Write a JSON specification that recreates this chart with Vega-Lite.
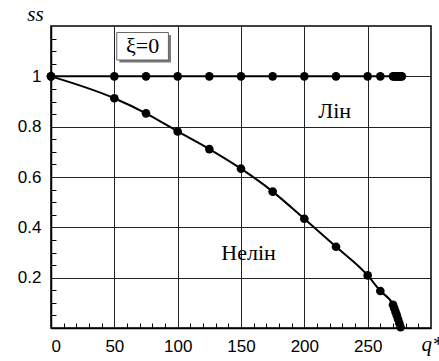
{
  "$schema": "https://vega.github.io/schema/vega-lite/v6.json",
  "width": 380,
  "height": 302,
  "autosize": {"type": "none"},
  "padding": {"left": 51, "top": 26, "right": 8, "bottom": 33},
  "background": "white",
  "config": {
    "view": {"stroke": "black", "strokeWidth": 1.5},
    "axis": {
      "domainColor": "black",
      "domainWidth": 1.5,
      "tickColor": "black",
      "tickWidth": 1,
      "gridColor": "#222",
      "gridWidth": 1,
      "gridOpacity": 1,
      "labelFont": "Liberation Sans",
      "labelFontSize": 17,
      "labelColor": "black",
      "labelOverlap": false,
      "titleFont": "Liberation Serif",
      "titleFontStyle": "italic",
      "titleFontWeight": "normal",
      "titleFontSize": 21,
      "titleColor": "black"
    }
  },
  "datasets": {
    "curves": [
      {"series": "Лін", "q": 0, "ss": 1},
      {"series": "Лін", "q": 50, "ss": 1},
      {"series": "Лін", "q": 75, "ss": 1},
      {"series": "Лін", "q": 100, "ss": 1},
      {"series": "Лін", "q": 125, "ss": 1},
      {"series": "Лін", "q": 150, "ss": 1},
      {"series": "Лін", "q": 175, "ss": 1},
      {"series": "Лін", "q": 200, "ss": 1},
      {"series": "Лін", "q": 225, "ss": 1},
      {"series": "Лін", "q": 250, "ss": 1},
      {"series": "Лін", "q": 260, "ss": 1},
      {"series": "Лін", "q": 270, "ss": 1},
      {"series": "Лін", "q": 271, "ss": 1},
      {"series": "Лін", "q": 272, "ss": 1},
      {"series": "Лін", "q": 273, "ss": 1},
      {"series": "Лін", "q": 274, "ss": 1},
      {"series": "Лін", "q": 275, "ss": 1},
      {"series": "Лін", "q": 276, "ss": 1},
      {"series": "Лін", "q": 277, "ss": 1},
      {"series": "Нелін", "q": 0, "ss": 1},
      {"series": "Нелін", "q": 50, "ss": 0.913},
      {"series": "Нелін", "q": 75, "ss": 0.853},
      {"series": "Нелін", "q": 100, "ss": 0.781},
      {"series": "Нелін", "q": 125, "ss": 0.711},
      {"series": "Нелін", "q": 150, "ss": 0.633},
      {"series": "Нелін", "q": 175, "ss": 0.542},
      {"series": "Нелін", "q": 200, "ss": 0.434},
      {"series": "Нелін", "q": 225, "ss": 0.323},
      {"series": "Нелін", "q": 250, "ss": 0.209},
      {"series": "Нелін", "q": 260, "ss": 0.147},
      {"series": "Нелін", "q": 270, "ss": 0.092},
      {"series": "Нелін", "q": 271, "ss": 0.078},
      {"series": "Нелін", "q": 272, "ss": 0.064},
      {"series": "Нелін", "q": 273, "ss": 0.05},
      {"series": "Нелін", "q": 274, "ss": 0.035},
      {"series": "Нелін", "q": 275, "ss": 0.019},
      {"series": "Нелін", "q": 276, "ss": 0.003}
    ],
    "labels": [
      {"q": 224, "ss": 0.835, "text": "Лін"},
      {"q": 156, "ss": 0.272, "text": "Нелін"}
    ]
  },
  "resolve": {"axis": {"x": "independent", "y": "independent"}},
  "layer": [
    {
      "data": {"name": "curves"},
      "mark": {"type": "line", "color": "black", "strokeWidth": 2, "interpolate": "monotone"},
      "encoding": {
        "x": {
          "field": "q", "type": "quantitative",
          "scale": {"domain": [0, 300], "nice": false},
          "axis": {
            "orient": "bottom",
            "title": "q*",
            "titleX": 370, "titleY": 22, "titleAlign": "left", "titleBaseline": "alphabetic",
            "values": [0, 50, 100, 150, 200, 250],
            "ticks": false,
            "labelPadding": 10,
            "grid": true
          }
        },
        "y": {
          "field": "ss", "type": "quantitative",
          "scale": {"domain": [0, 1.2], "nice": false},
          "axis": {
            "orient": "left",
            "title": "ss",
            "titleAngle": 0, "titleX": -16, "titleY": -6, "titleAlign": "center", "titleBaseline": "alphabetic",
            "values": [0.2, 0.4, 0.6, 0.8, 1],
            "format": ".1~f",
            "ticks": false,
            "labelPadding": 10,
            "grid": true
          }
        },
        "detail": {"field": "series", "type": "nominal"}
      }
    },
    {
      "data": {"name": "curves"},
      "mark": {"type": "circle", "color": "black", "opacity": 1, "size": 75},
      "encoding": {
        "x": {
          "field": "q", "type": "quantitative",
          "axis": {
            "orient": "bottom", "title": null, "labels": false, "grid": false, "domain": false,
            "values": [10,20,30,40,60,70,80,90,110,120,130,140,160,170,180,190,210,220,230,240,260,270,280,290],
            "tickSize": -5
          }
        },
        "y": {
          "field": "ss", "type": "quantitative",
          "axis": {
            "orient": "left", "title": null, "labels": false, "grid": false, "domain": false,
            "values": [0.05,0.1,0.15,0.25,0.3,0.35,0.45,0.5,0.55,0.65,0.7,0.75,0.85,0.9,0.95,1.05,1.1,1.15],
            "tickSize": -5
          }
        }
      }
    },
    {
      "data": {"name": "labels"},
      "mark": {"type": "text", "font": "Liberation Serif", "fontSize": 22, "color": "black", "align": "center", "baseline": "alphabetic"},
      "encoding": {
        "x": {"field": "q", "type": "quantitative", "axis": null},
        "y": {"field": "ss", "type": "quantitative", "axis": null},
        "text": {"field": "text"}
      }
    },
    {
      "data": {"values": [{}]},
      "mark": {"type": "rect", "color": "#777"},
      "encoding": {
        "x": {"datum": 54, "axis": null}, "x2": {"datum": 94.7},
        "y": {"datum": 1.164, "axis": null}, "y2": {"datum": 1.055}
      }
    },
    {
      "data": {"values": [{}]},
      "mark": {"type": "rect", "fill": "white", "stroke": "#666", "strokeWidth": 1},
      "encoding": {
        "x": {"datum": 51.9, "axis": null}, "x2": {"datum": 92.7},
        "y": {"datum": 1.174, "axis": null}, "y2": {"datum": 1.065}
      }
    },
    {
      "data": {"values": [{"text": "ξ=0"}]},
      "mark": {"type": "text", "font": "Liberation Serif", "fontSize": 22, "color": "black", "align": "center", "baseline": "alphabetic"},
      "encoding": {
        "x": {"datum": 72.3, "axis": null},
        "y": {"datum": 1.091, "axis": null},
        "text": {"field": "text"}
      }
    }
  ]
}
